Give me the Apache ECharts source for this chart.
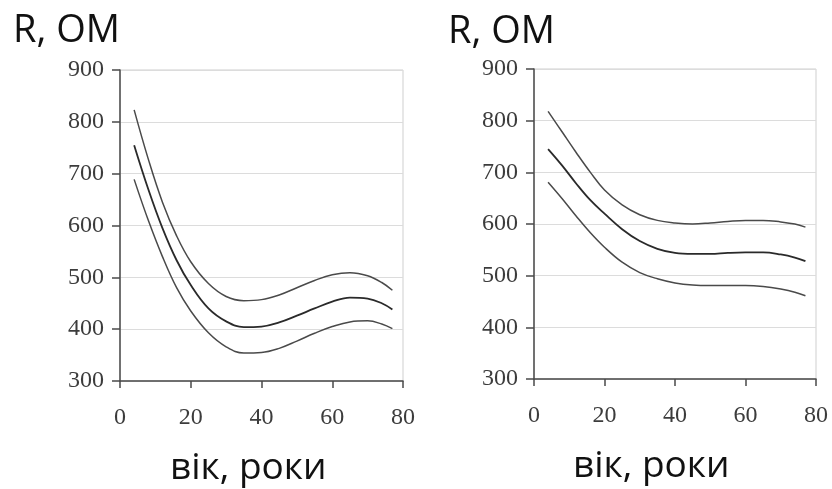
<!DOCTYPE html>
<html>
<head>
<meta charset="utf-8">
<script src="https://cdn.jsdelivr.net/npm/echarts@6/dist/echarts.min.js"></script>
<style>
html,body{margin:0;padding:0;background:#fff;}
#c{width:832px;height:489px;}
</style>
</head>
<body>
<div id="c"></div>
<script>
// ages (x values)
const ages = [4, 8, 12, 16, 20, 25, 30, 35, 40, 45, 50, 55, 60, 65, 70, 74, 77];
// left chart
const leftUpper  = [823, 728, 645, 580, 530, 488, 463, 455, 457, 466, 480, 494, 505, 509, 503, 490, 475];
const leftMiddle = [755, 670, 595, 533, 485, 440, 415, 404, 405, 413, 426, 440, 453, 461, 459, 450, 438];
const leftLower  = [689, 610, 540, 480, 435, 393, 366, 354, 355, 363, 377, 392, 405, 414, 416, 410, 401];
// right chart
const rightUpper  = [818, 778, 738, 700, 666, 637, 618, 607, 602, 600, 602, 605, 607, 607, 604, 600, 594];
const rightMiddle = [745, 713, 678, 646, 620, 590, 567, 552, 544, 542, 542, 544, 545, 545, 541, 535, 528];
const rightLower  = [681, 649, 615, 583, 555, 526, 506, 494, 486, 482, 481, 481, 481, 479, 474, 468, 461];
// axis ticks
const xTicks = [0, 20, 40, 60, 80];
const yTicks = [300, 400, 500, 600, 700, 800, 900];
const yTitle = 'R, OM';
const xTitle = 'вік, роки';

const pairs = (ys) => ages.map((a, i) => [a, ys[i]]);

const axisColor = '#4a4a4a';
const labelFont = { fontFamily: 'Liberation Serif', fontSize: 24, color: '#3c3c3c' };

function xAx(gi) {
  return {
    gridIndex: gi, type: 'value', min: xTicks[0], max: xTicks[xTicks.length - 1], interval: 20,
    axisLine: { show: true, onZero: false, lineStyle: { color: axisColor, width: 1.5 } },
    axisTick: { show: true, length: 7, lineStyle: { color: axisColor, width: 1.5 } },
    axisLabel: Object.assign({ margin: 25 }, labelFont),
    splitLine: { show: false }
  };
}
function yAx(gi) {
  return {
    gridIndex: gi, type: 'value', min: yTicks[0], max: yTicks[yTicks.length - 1], interval: 100,
    axisLine: { show: true, lineStyle: { color: axisColor, width: 1.5 } },
    axisTick: { show: true, length: 8, lineStyle: { color: axisColor, width: 1.5 } },
    axisLabel: Object.assign({ margin: 16 }, labelFont),
    splitLine: { show: true, lineStyle: { color: '#dcdcdc', width: 1 } }
  };
}
function ser(gi, ys, main) {
  return {
    type: 'line', xAxisIndex: gi, yAxisIndex: gi, data: pairs(ys), smooth: 0.4,
    symbol: 'none', silent: true,
    lineStyle: { color: main ? '#2a2a2a' : '#4a4a4a', width: main ? 1.8 : 1.5 }
  };
}

const titleStyle = { fontFamily: 'Open Sans', fontSize: 38, color: '#111', fontWeight: 'normal' };
const nameStyle = { fontFamily: 'Open Sans', fontSize: 37, color: '#111', fontWeight: 'normal' };

const chart = echarts.init(document.getElementById('c'), null, { renderer: 'canvas' });
chart.setOption({
  backgroundColor: '#fff',
  animation: false,
  title: [
    { text: yTitle, left: 13, top: 12, textStyle: titleStyle, padding: 0 },
    { text: yTitle, left: 448, top: 13, textStyle: titleStyle, padding: 0 },
    { text: xTitle, left: 170, top: 450, textStyle: nameStyle, padding: 0 },
    { text: xTitle, left: 573, top: 448, textStyle: nameStyle, padding: 0 }
  ],
  grid: [
    { left: 120, top: 70, width: 283, height: 311, show: true, borderColor: '#cfcfcf', borderWidth: 1, containLabel: false },
    { left: 534, top: 69, width: 282, height: 310, show: true, borderColor: '#cfcfcf', borderWidth: 1, containLabel: false }
  ],
  xAxis: [xAx(0), xAx(1)],
  yAxis: [yAx(0), yAx(1)],
  series: [
    ser(0, leftUpper, false), ser(0, leftMiddle, true), ser(0, leftLower, false),
    ser(1, rightUpper, false), ser(1, rightMiddle, true), ser(1, rightLower, false)
  ]
});
</script>
</body>
</html>
